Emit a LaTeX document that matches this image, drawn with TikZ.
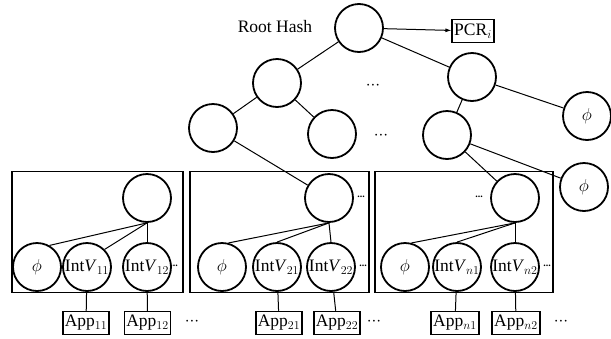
\documentclass[tikz,border=0pt]{standalone}
\usepackage{fontspec}
\setmainfont{Liberation Serif}
\usetikzlibrary{arrows.meta,positioning}

\newcommand{\middots}{${\cdot}{\cdot}{\cdot}$}

\begin{document}
\begin{tikzpicture}[
    x=1pt, y=-1pt,
    font=\fontsize{17.5}{20}\selectfont,
    hash/.style={draw, circle, line width=1.8pt, minimum size=48pt, inner sep=0pt},
    appbox/.style={draw, rectangle, line width=1.5pt, inner sep=2pt, minimum height=23pt},
    group/.style={draw, rectangle, line width=1.5pt},
    link/.style={draw, line width=1pt},
    moredots/.style={font=\fontsize{10}{10}\selectfont\bfseries, inner sep=0pt}
]
\useasboundingbox (0,0) rectangle (611,338);

% groups of nodes
\node[group, minimum width=171pt, minimum height=121pt] (grp1) at (97.5,232) {};
\node[group, minimum width=179pt, minimum height=121pt] (grp2) at (279.5,232) {};
\node[group, minimum width=178pt, minimum height=121pt] (grp3) at (464,232) {};

% upper tree
\node[hash] (root) at (359,28) {};
\node[anchor=center] (rootlbl) at (275,27) {Root Hash};
\node[appbox] (pcr) at (473,31) {PCR$_{i}$};
\node[hash] (l1a) at (277,83) {};
\node[hash] (l1b) at (472,77) {};
\node (d1) at (373,86) {\middots};
\node[hash] (l2a) at (213,128) {};
\node[hash] (l2b) at (332,134) {};
\node (d2) at (381,136) {\middots};
\node[hash] (l2c) at (447,135) {};
\node[hash] (phia) at (587,116) {$\phi$};
\node[hash] (phib) at (584,187) {$\phi$};

% first group
\node[hash] (t1) at (147,198) {};
\node[hash] (p1) at (37,267) {$\phi$};
\node[hash] (i11) at (87,267) {Int\textit{V}$_{11}$};
\node[hash] (i12) at (147,267) {Int\textit{V}$_{12}$};
\node[moredots] (e1) at (174,266) {...};
\node[appbox] (a11) at (86,323) {App$_{11}$};
\node[appbox] (a12) at (147.5,323) {App$_{12}$};
\node (f1) at (192,322) {\middots};

% second group
\node[hash] (t2) at (329,198) {};
\node[moredots] (g2) at (361,197) {...};
\node[hash] (p2) at (222,267) {$\phi$};
\node[hash] (i21) at (277,267) {Int\textit{V}$_{21}$};
\node[hash] (i22) at (331,267) {Int\textit{V}$_{22}$};
\node[moredots] (e2) at (363,266) {...};
\node[appbox] (a21) at (279,323) {App$_{21}$};
\node[appbox] (a22) at (337,323) {App$_{22}$};
\node (f2) at (374,322) {\middots};

% third group
\node[hash] (t3) at (515,198) {};
\node[moredots] (g3) at (479,197) {...};
\node[hash] (p3) at (405,267) {$\phi$};
\node[hash] (i31) at (457,267) {Int\textit{V}$_{n1}$};
\node[hash] (i32) at (515,267) {Int\textit{V}$_{n2}$};
\node[moredots] (e3) at (547,266) {...};
\node[appbox] (a31) at (455,323) {App$_{n1}$};
\node[appbox] (a32) at (516,323) {App$_{n2}$};
\node (f3) at (561,322) {\middots};

\draw[line width=1pt, -{Latex[length=6pt,width=4pt]}] (root) -- (pcr);
\draw[link] (root) -- (l1a);
\draw[link] (root) -- (l1b);
\draw[link] (l1a) -- (l2a);
\draw[link] (l1a) -- (l2b);
\draw[link] (l1b) -- (l2c);
\draw[link] (l1b) -- (phia);
\draw[link] (l2c) -- (phib);
\draw[link] (l2a) -- (t2);
\draw[link] (l2c) -- (t3);

\draw[link] (t1.south) -- (p1.60);
\draw[link] (t1.south) -- (i11.45);
\draw[link] (t1.south) -- (i12.north);
\draw[link] (t2.south) -- (p2.75);
\draw[link] (t2.south) -- (i21.north);
\draw[link] (t2.south) -- (i22.north);
\draw[link] (t3.south) -- (p3.75);
\draw[link] (t3.south) -- (i31.north);
\draw[link] (t3.south) -- (i32.north);

\draw[link] (i11) -- (a11);
\draw[link] (i12) -- (a12);
\draw[link] (i21) -- (a21);
\draw[link] (i22) -- (a22);
\draw[link] (i31) -- (a31);
\draw[link] (i32) -- (a32);
\end{tikzpicture}
\end{document}
